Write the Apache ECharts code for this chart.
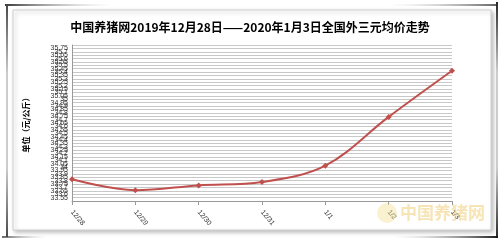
<!DOCTYPE html>
<html><head><meta charset="utf-8">
<script src="https://cdn.jsdelivr.net/npm/echarts@6/dist/echarts.min.js"></script>
<style>html,body{margin:0;padding:0;background:#fff}#c{width:500px;height:241px}</style>
</head><body><div id="c"></div>
<script>
const categories = ['12/28','12/29','12/30','12/31','1/1','1/2','1/3'];
const prices = [33.82, 33.66, 33.73, 33.78, 34.02, 34.74, 35.42];
const yMin = 33.5, yMax = 35.8, yStep = 0.05;
const titleText = '中国养猪网2019年12月28日——2020年1月3日全国外三元均价走势';
const yName = '单位（元/公斤）';

const chart = echarts.init(document.getElementById('c'));
chart.setOption({
  animation: false,
  backgroundColor: '#fff',
  title: {
    text: titleText, left: 'center', top: 16,
    textStyle: {fontSize: 12, fontWeight: 'bold', color: '#000', fontFamily: 'Noto Sans CJK SC'}
  },
  graphic: [
    {type:'rect', shape:{x:13,y:10,width:478,height:220}, style:{fill:'#fff', stroke:'#d0d0d0', lineWidth:1, shadowBlur:4, shadowColor:'rgba(0,0,0,0.25)', shadowOffsetX:2, shadowOffsetY:2}, z:-10},
    {type:'line', shape:{x1:5,y1:5,x2:110,y2:5}, style:{stroke:{type:'linear',x:0,y:0,x2:1,y2:0,colorStops:[{offset:0,color:'#333'},{offset:1,color:'rgba(200,200,200,0)'}]}, lineWidth:2}, z:-5},
    {type:'line', shape:{x1:7,y1:5,x2:7,y2:237}, style:{stroke:{type:'linear',x:0,y:0,x2:0,y2:1,colorStops:[{offset:0,color:'#444'},{offset:0.3,color:'#ccc'},{offset:0.7,color:'#ccc'},{offset:1,color:'#444'}]}, lineWidth:2}, z:-5},
    {type:'line', shape:{x1:2,y1:237,x2:45,y2:237}, style:{stroke:{type:'linear',x:0,y:0,x2:1,y2:0,colorStops:[{offset:0,color:'#222'},{offset:1,color:'rgba(200,200,200,0)'}]}, lineWidth:1.5}, z:-5},
    {type:'line', shape:{x1:390,y1:5,x2:498,y2:5}, style:{stroke:{type:'linear',x:0,y:0,x2:1,y2:0,colorStops:[{offset:0,color:'rgba(200,200,200,0)'},{offset:1,color:'#222'}]}, lineWidth:1.5}, z:-5},
    {type:'line', shape:{x1:497,y1:2,x2:497,y2:238}, style:{stroke:{type:'linear',x:0,y:0,x2:0,y2:1,colorStops:[{offset:0,color:'#222'},{offset:0.3,color:'#ccc'},{offset:0.7,color:'#ccc'},{offset:1,color:'#222'}]}, lineWidth:2}, z:-5},
    {type:'line', shape:{x1:395,y1:237,x2:498,y2:237}, style:{stroke:{type:'linear',x:0,y:0,x2:1,y2:0,colorStops:[{offset:0,color:'rgba(200,200,200,0)'},{offset:1,color:'#111'}]}, lineWidth:2}, z:-5},
    {type:'circle', shape:{cx:387,cy:213,r:10}, style:{fill:'rgba(245,225,150,0.45)'}, z:10},
    {type:'text', left:400, top:204, style:{text:'中国养猪网', fill:'rgba(240,205,120,0.55)', font:'bold 17px "Noto Sans CJK SC"'}, z:10}
  ],
  grid: {left: 72, right: 48, top: 45, bottom: 40},
  xAxis: {
    type: 'category', data: categories, boundaryGap: false,
    axisLine: {lineStyle: {color: '#999'}},
    axisTick: {show: true, length: 4, lineStyle: {color: '#999'}},
    axisLabel: {rotate: -50, fontSize: 7, color: '#333', margin: 10, fontFamily: 'Liberation Sans'},
    splitLine: {show: false}
  },
  yAxis: {
    type: 'value', min: yMin, max: yMax, interval: yStep,
    name: yName, nameLocation: 'middle', nameGap: 42, nameRotate: 90,
    nameTextStyle: {fontSize: 8, fontWeight: 'bold', color: '#000', fontFamily: 'Noto Sans CJK SC'},
    axisLine: {show: true, lineStyle: {color: '#999'}},
    axisTick: {show: false},
    axisLabel: {fontSize: 7, color: '#333', margin: 4, fontFamily: 'Liberation Sans', hideOverlap: false},
    splitLine: {lineStyle: {color: '#c8c8c8', width: 1}}
  },
  series: [{
    type: 'line', data: prices, smooth: 0.35,
    symbol: 'diamond', symbolSize: 6,
    lineStyle: {color: '#c0504d', width: 2},
    itemStyle: {color: '#c0504d'}
  }]
});
</script></body></html>
